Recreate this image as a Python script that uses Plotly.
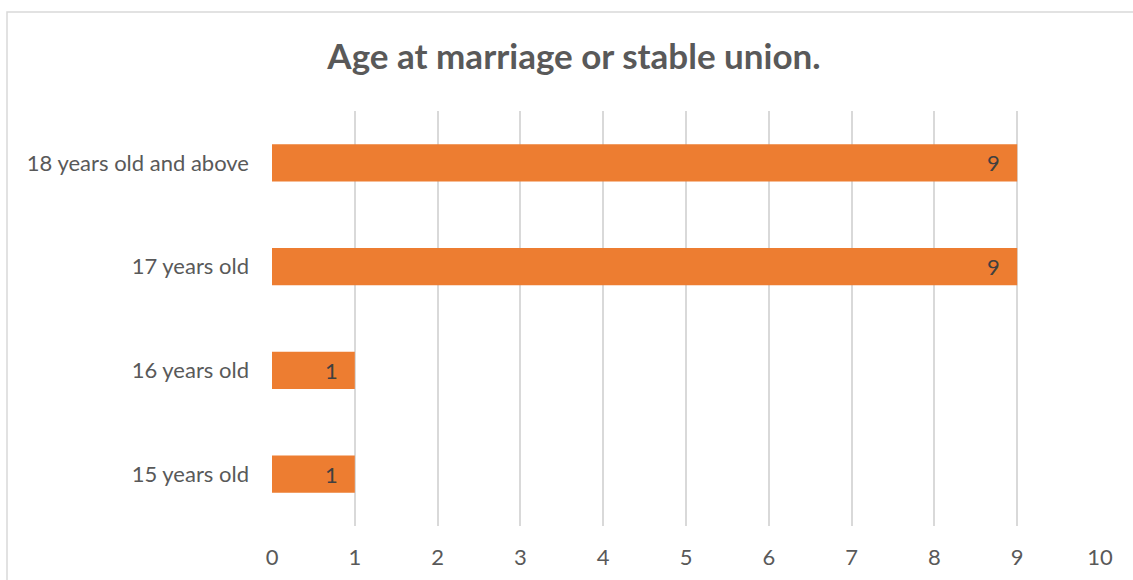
import plotly.graph_objects as go

categories = ["15 years old", "16 years old", "17 years old", "18 years old and above"]
counts = [1, 1, 9, 9]
x_ticks = list(range(0, 11))

FONT = "Lato"
TEXT = "#595959"
LABEL_SIZE = 22

fig = go.Figure(
    go.Bar(
        x=counts,
        y=categories,
        orientation="h",
        marker=dict(color="#ED7D31", line=dict(width=0)),
        width=0.36,
        hoverinfo="skip",
    )
)

# value labels sit just inside the end of each bar
for cat, val in zip(categories, counts):
    fig.add_annotation(
        x=val,
        y=cat,
        text=str(val),
        showarrow=False,
        xanchor="right",
        yanchor="middle",
        xshift=-15,
        font=dict(family=FONT, size=LABEL_SIZE, color="#404040"),
    )

fig.update_layout(
    width=1133,
    height=580,
    margin=dict(l=272, r=33, t=111, b=54),
    paper_bgcolor="white",
    plot_bgcolor="white",
    showlegend=False,
    title=dict(
        text="<b>Age at marriage or stable union.</b>",
        x=574 / 1133,
        xref="container",
        xanchor="center",
        y=1 - 57 / 580,
        yref="container",
        yanchor="middle",
        font=dict(family=FONT, size=35, color=TEXT),
    ),
    xaxis=dict(
        range=[0, 10],
        tickvals=x_ticks,
        ticktext=[str(t) for t in x_ticks],
        showgrid=True,
        gridcolor="#D9D9D9",
        gridwidth=2,
        zeroline=False,
        showline=False,
        ticks="",
        ticklabelstandoff=16,
        automargin=False,
        tickfont=dict(family=FONT, size=LABEL_SIZE, color=TEXT),
        fixedrange=True,
    ),
    yaxis=dict(
        categoryorder="array",
        categoryarray=categories,
        showgrid=False,
        zeroline=False,
        showline=False,
        ticks="",
        ticklabelstandoff=22,
        automargin=False,
        tickfont=dict(family=FONT, size=LABEL_SIZE, color=TEXT),
        fixedrange=True,
    ),
    shapes=[
        dict(
            type="rect",
            xref="paper",
            yref="paper",
            x0=(7 - 272) / 828,
            x1=(1140 - 272) / 828,
            y0=(526 - 590) / 415,
            y1=(526 - 12) / 415,
            line=dict(color="#D9D9D9", width=1.5),
            fillcolor="rgba(0,0,0,0)",
            layer="below",
        )
    ],
)

fig.write_html("out.html")
